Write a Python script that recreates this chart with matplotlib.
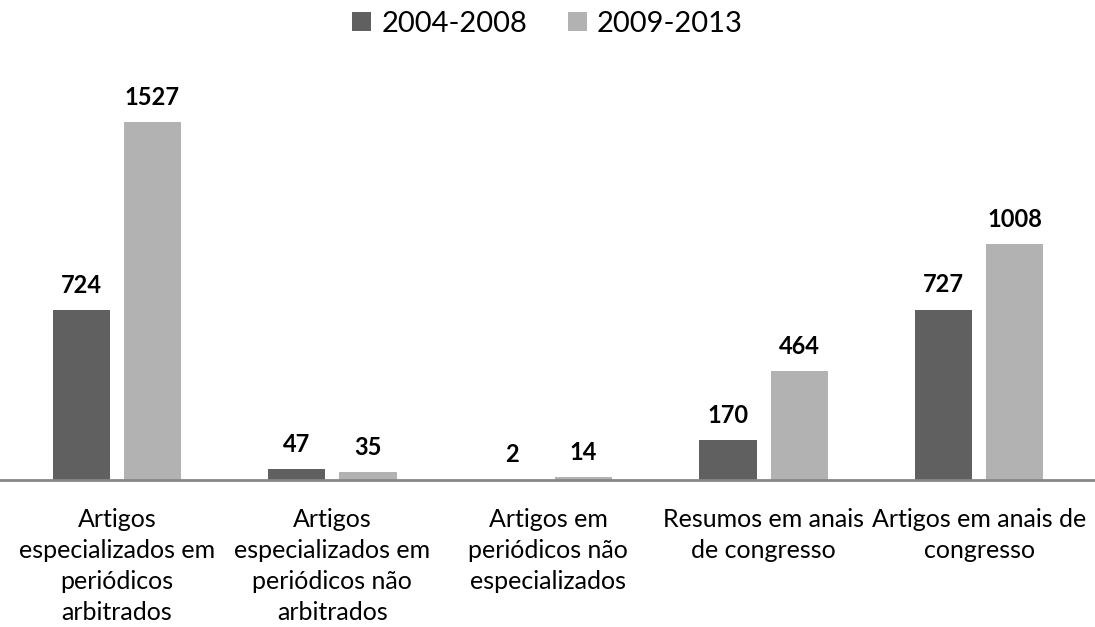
import matplotlib.pyplot as plt
import numpy as np

categories = [
    'Artigos\nespecializados em\nperiódicos\narbitrados',
    'Artigos\nespecializados em\nperiódicos não\narbitrados',
    'Artigos em\nperiódicos não\nespecializados',
    'Resumos em anais\nde congresso',
    'Artigos em anais de\ncongresso',
]
series_names = ['2004-2008', '2009-2013']
values_0408 = [724, 47, 2, 170, 727]
values_0913 = [1527, 35, 14, 464, 1008]
colors = ['#606060', '#b2b2b2']

plt.rcParams['font.family'] = ['Lato', 'DejaVu Sans']

fig = plt.figure(figsize=(10.95, 6.27), dpi=100)
ax = fig.add_axes([0.0, 0.2344, 1.0, 0.673])

x = np.arange(len(categories))
width = 0.265
offset = 0.165
for vals, name, col, dx in zip([values_0408, values_0913], series_names, colors, [-offset, offset]):
    bars = ax.bar(x + dx, vals, width, color=col, label=name)
    for b, v in zip(bars, vals):
        ax.text(b.get_x() + b.get_width() / 2, v + 56, str(v), ha='center', va='bottom',
                fontsize=17, fontweight='bold', color='black')

ax.set_xlim(-0.5 - 9 / 215.5, 4.5 + 8 / 215.5)
ax.set_ylim(0, 1800)
ax.set_yticks([])
ax.set_xticks(x)
ax.set_xticklabels(categories, fontsize=18, linespacing=1.42, va='top')
ax.tick_params(axis='x', length=0, pad=20)
for s in ['top', 'left', 'right']:
    ax.spines[s].set_visible(False)
ax.spines['bottom'].set_color('#878787')
ax.spines['bottom'].set_linewidth(2)

fig.legend(loc='center', bbox_to_anchor=(0.5, 0.962), ncol=2, frameon=False,
           fontsize=21, handlelength=0.65, handleheight=0.65, handletextpad=0.35,
           columnspacing=1.4)

fig.savefig('out.png', dpi=100, facecolor='white')
